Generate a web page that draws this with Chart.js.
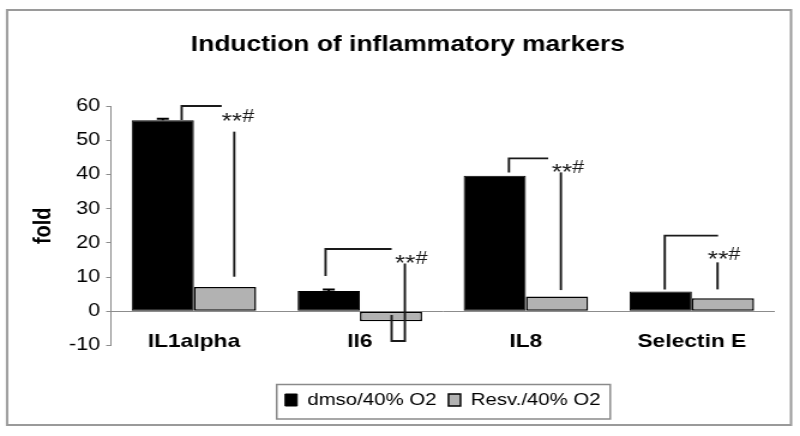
<!DOCTYPE html>
<html><head><meta charset="utf-8">
<script src="https://cdn.jsdelivr.net/npm/chart.js@4"></script>
<style>
html,body{margin:0;padding:0;background:#fff;overflow:hidden}
#wrap{position:absolute;left:0;top:0;width:667px;height:436px;transform:scale(1.1994,1);transform-origin:0 0}
</style></head><body>
<div id="wrap"><canvas id="c" width="667" height="436"></canvas></div>
<script>
// ---- data ----
const categories = ['IL1alpha', 'Il6', 'IL8', 'Selectin E'];
const seriesNames = ['dmso/40% O2', 'Resv./40% O2'];
const dmsoValues = [55.8, 5.9, 39.6, 5.8];
const resvValues = [7.1, -2.9, 4.3, 3.8];
const dmsoErrors = [0.5, 0.5, 0, 0];
const yMin = -10, yMax = 60, yStep = 10;
const titleText = 'Induction of inflammatory markers';
const yTitle = 'fold';
const sigText = '**#';
// significance brackets: [offset within category (fraction of category width), value]
const bracketTop = [
  [[-0.074, 55.9], [-0.074, 60.0], [0.167, 60.0]],
  [[-0.207, 10.3], [-0.207, 18.2], [0.191, 18.2]],
  [[-0.102, 40.6], [-0.102, 44.7], [0.134, 44.7]],
  [[-0.163, 6.4], [-0.163, 22.1], [0.158, 22.1]]
];
const bracketDrop = [
  [[0.243, 52.5], [0.243, 10.1]],
  [[0.191, -1.1], [0.191, -8.7], [0.271, -8.7], [0.271, 14.0]],
  [[0.211, 40.6], [0.211, 6.2]],
  [[0.155, 14.3], [0.155, 6.4]]
];
const sigLabelPos = [[0.167, 56.9], [0.211, 15.3], [0.155, 41.9], [0.096, 16.5]];

const FAM = "'Liberation Sans', Arial, sans-serif";

const framePlugin = {
  id: 'frame',
  beforeDraw(chart) {
    const ctx = chart.ctx;
    ctx.save();
    ctx.fillStyle = '#fff';
    ctx.fillRect(0, 0, chart.width, chart.height);
    ctx.strokeStyle = '#9a9a9a';
    ctx.lineWidth = 2;
    ctx.strokeRect(5.9, 10, 653.6, 415);
    ctx.restore();
  },
  afterDraw(chart) {
    const lg = chart.legend;
    if (!lg || !lg.legendHitBoxes || !lg.legendHitBoxes.length) return;
    const hb = lg.legendHitBoxes;
    const first = hb[0], last = hb[hb.length - 1];
    const ctx = chart.ctx;
    ctx.save();
    ctx.strokeStyle = '#8a8a8a';
    ctx.lineWidth = 1.5;
    const l = first.left - 7, r = last.left + last.width + 8;
    const t = first.top - 7, b = first.top + first.height + 10.5;
    ctx.strokeRect(l, t, r - l, b - t);
    ctx.restore();
  }
};

const annotPlugin = {
  id: 'annot',
  afterDatasetsDraw(chart) {
    const ctx = chart.ctx;
    const xs = chart.scales.x, ys = chart.scales.y;
    const catW = xs.width / categories.length;
    const px = (i, off) => xs.getPixelForValue(i) + off * catW;
    ctx.save();
    // error caps on dmso bars
    const meta = chart.getDatasetMeta(0);
    ctx.strokeStyle = '#000';
    ctx.lineWidth = 2;
    meta.data.forEach((bar, i) => {
      const e = dmsoErrors[i];
      if (!e) return;
      const y0 = ys.getPixelForValue(dmsoValues[i]);
      const y1 = ys.getPixelForValue(dmsoValues[i] + e);
      ctx.beginPath();
      ctx.moveTo(bar.x, y0); ctx.lineTo(bar.x, y1);
      ctx.moveTo(bar.x - 5, y1); ctx.lineTo(bar.x + 5, y1);
      ctx.stroke();
    });
    // brackets
    ctx.strokeStyle = '#1a1a1a';
    ctx.lineWidth = 1.9;
    const drawPath = (i, pts) => {
      ctx.beginPath();
      pts.forEach((p, k) => {
        const x = px(i, p[0]), y = ys.getPixelForValue(p[1]);
        if (k === 0) ctx.moveTo(x, y); else ctx.lineTo(x, y);
      });
      ctx.stroke();
    };
    categories.forEach((c, i) => {
      drawPath(i, bracketTop[i]);
      drawPath(i, bracketDrop[i]);
    });
    // labels
    ctx.fillStyle = '#1a1a1a';
    ctx.textAlign = 'left';
    ctx.textBaseline = 'middle';
    const stars = sigText.slice(0, 2), hash = sigText.slice(2);
    ctx.font = '22px ' + FAM;
    const sw = ctx.measureText(stars).width;
    sigLabelPos.forEach((p, i) => {
      const x = px(i, p[0]), y = ys.getPixelForValue(p[1]);
      ctx.font = '22px ' + FAM;
      ctx.fillText(stars, x, y + 5);
      ctx.font = '18px ' + FAM;
      ctx.fillText(hash, x + sw, y);
    });
    ctx.restore();
  }
};

new Chart(document.getElementById('c'), {
  type: 'bar',
  data: {
    labels: categories,
    datasets: [
      { label: seriesNames[0], data: dmsoValues, backgroundColor: '#000', borderColor: '#000', borderWidth: 1, borderSkipped: false },
      { label: seriesNames[1], data: resvValues, backgroundColor: '#b2b2b2', borderColor: '#000', borderWidth: 1.5, borderSkipped: false }
    ]
  },
  options: {
    responsive: false,
    animation: false,
    devicePixelRatio: 1,
    categoryPercentage: 0.75,
    barPercentage: 1.0,
    layout: { padding: { left: 34, right: 21, top: 0, bottom: 17.5 } },
    plugins: {
      title: {
        display: true, text: titleText, color: '#000',
        font: { family: FAM, size: 22, weight: 'bold' },
        padding: { top: 32, bottom: 47.6 }
      },
      legend: {
        display: true, position: 'bottom', fullSize: false,
        labels: { color: '#000', font: { family: FAM, size: 17 }, boxWidth: 10, boxHeight: 12, padding: 10 }
      },
      tooltip: { enabled: false }
    },
    scales: {
      x: {
        position: { y: yMin },
        grid: { display: false, drawTicks: false },
        border: { display: false },
        ticks: { color: '#000', font: { family: FAM, size: 19, weight: 'bold' }, padding: -15 }
      },
      spacer: {
        type: 'category', axis: 'x', position: 'bottom',
        grid: { display: false, drawTicks: false },
        border: { display: false },
        ticks: { display: false },
        afterFit(s) { s.height = 36; }
      },
      y: {
        min: yMin, max: yMax,
        ticks: { stepSize: yStep, color: '#000', font: { family: FAM, size: 18 }, padding: 5 },
        grid: {
          color: (c) => (c.tick && c.tick.value === 0 ? '#8c8c8c' : 'rgba(0,0,0,0)'),
          tickColor: '#8c8c8c', tickLength: 4, lineWidth: 1
        },
        border: { display: true, color: '#8c8c8c', width: 1 },
        title: { display: true, text: yTitle, color: '#000', font: { family: FAM, size: 20, weight: 'bold' }, padding: { top: -10, bottom: 0 } },
        afterFit(s) { s.width = 58.5; }
      }
    }
  },
  plugins: [framePlugin, annotPlugin]
});
</script>
</body></html>
